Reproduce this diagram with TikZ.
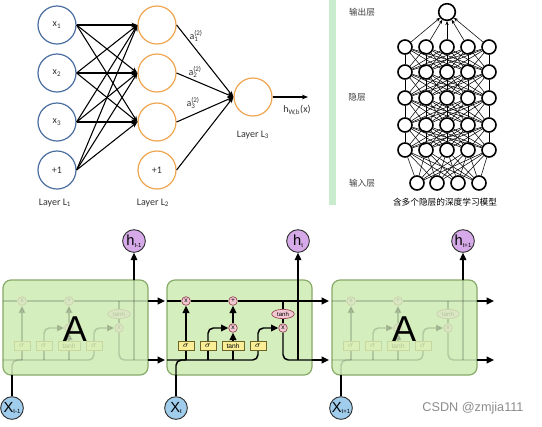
\documentclass[tikz,border=0pt]{standalone}
\usepackage{fontspec}
\setmainfont{Carlito}
\newfontfamily\cjk{Noto Sans CJK SC}
\newfontfamily\arial{Liberation Sans}
\usetikzlibrary{arrows.meta,shapes.geometric}

\definecolor{inblue}{RGB}{75,110,160}
\definecolor{hidorange}{RGB}{240,165,80}
\definecolor{bandgreen}{RGB}{200,236,205}
\definecolor{cellfill}{RGB}{212,238,190}
\definecolor{celldraw}{RGB}{135,170,105}
\definecolor{opfill}{RGB}{242,200,210}
\definecolor{opdraw}{RGB}{150,70,85}
\definecolor{gatefill}{RGB}{250,238,150}
\definecolor{gatedraw}{RGB}{110,100,40}
\definecolor{xfill}{RGB}{160,205,236}
\definecolor{hfill}{RGB}{214,170,232}

\newcommand{\tinysub}[1]{\raisebox{-1.3pt}{\fontsize{4.5}{4.5}\selectfont #1}}

\tikzset{every picture/.style={line width=0.75pt}}
\tikzset{
  innode/.style={circle,draw=inblue,line width=0.9pt,minimum size=28.5pt,inner sep=0pt,text=black!80,font=\fontsize{7.5}{8}\selectfont},
  hidnode/.style={innode,draw=hidorange},
  arr/.style={-{Stealth[length=4.5pt,width=3.5pt]},line width=0.8pt},
  lbl/.style={inner sep=0.75pt,text=black!80,font=\fontsize{7.5}{8}\selectfont},
  dnode/.style={circle,draw,line width=1.2pt,fill=white,minimum size=10.5pt,inner sep=0pt},
  dedge/.style={line width=0.4pt},
  cjklbl/.style={inner sep=0.75pt,text=black!75,font=\cjk\fontsize{6.5}{7}\selectfont},
  cellbox/.style={draw=celldraw,fill=cellfill,line width=0.9pt,rounded corners=6pt},
  op/.style={circle,draw=opdraw,fill=opfill,line width=0.5pt,minimum size=6.5pt,inner sep=0pt,font=\arial\fontsize{5}{5}\selectfont},
  gate/.style={rectangle,draw=gatedraw,fill=gatefill,line width=0.5pt,minimum width=12pt,minimum height=7pt,inner sep=0pt,font=\fontsize{6}{6}\selectfont},
  thnode/.style={ellipse,draw=opdraw,fill=opfill,line width=0.5pt,minimum width=17pt,minimum height=7pt,inner sep=0pt,font=\arial\fontsize{4.5}{5}\selectfont},
  wire/.style={line width=1.1pt},
  warr/.style={wire,-{Triangle[length=5.5pt,width=5pt]}},
  xnode/.style={circle,draw=black!80,fill=xfill,line width=0.7pt,minimum size=17pt,inner sep=0pt,font=\arial\fontsize{11}{11}\selectfont},
  hnode/.style={xnode,fill=hfill}
}

\begin{document}
\begin{tikzpicture}[x=0.75pt,y=0.75pt,yscale=-1,xscale=1]
\useasboundingbox (0,0) rectangle (542,426);
\fill[white] (0,0) rectangle (542,426);

%Shape: Circle (layer 1)
\node[innode] (x1) at (57,25) {x\textsubscript{1}};
\node[innode] (x2) at (57,73) {x\textsubscript{2}};
\node[innode] (x3) at (57,122) {x\textsubscript{3}};
\node[innode] (b1) at (57,170) {+1};
%Shape: Circle (layer 2)
\node[hidnode] (a1) at (157,25) {};
\node[hidnode] (a2) at (157,73) {};
\node[hidnode] (a3) at (157,122) {};
\node[hidnode] (b2) at (157,170) {+1};
%Shape: Circle (layer 3)
\node[hidnode] (o) at (253,97) {};
\coordinate (oend) at (308,97);

%Straight Lines
\foreach \i in {x1,x2,x3,b1}
  \foreach \j in {a1,a2,a3}
    \draw[arr] (\i.east) -- (\j.west);
\foreach \j in {a1,a2,a3,b2}
  \draw[arr] (\j.east) -- (o.west);
\draw[arr] (o) -- (oend);

% Text Node
\node[lbl] (la1) at (194,36) {a\rlap{\textsuperscript{(2)}}\textsubscript{1}};
\node[lbl] (la2) at (193,72) {a\rlap{\textsuperscript{(2)}}\textsubscript{2}};
\node[lbl] (la3) at (191,103) {a\rlap{\textsuperscript{(2)}}\textsubscript{3}};
\node[lbl] (lh) at (297,110) {h\textsubscript{W,b}(x)};
\node[lbl] (ll1) at (55,203) {Layer L\textsubscript{1}};
\node[lbl] (ll2) at (153,203) {Layer L\textsubscript{2}};
\node[lbl] (ll3) at (253,135) {Layer L\textsubscript{3}};

%Shape: Rectangle (divider)
\fill[bandgreen] (329,0) rectangle (336,205);

%Shape: Circle (deep net)
\node[dnode,minimum size=12.5pt] (out) at (447,12) {};
\foreach \r/\yy in {1/47,2/72,3/98,4/125,5/150}
  \foreach \xx [count=\j] in {405,426,447,468,489}
    \node[dnode] (d\r-\j) at (\xx,\yy) {};
\foreach \xx [count=\i] in {417,437,458,479}
  \node[dnode] (in-\i) at (\xx,183) {};
%Straight Lines (deep net)
\foreach \i in {1,...,4}
  \foreach \j in {1,...,5}
    \draw[dedge] (in-\i) -- (d5-\j);
\foreach \r/\s in {1/2,2/3,3/4,4/5}
  \foreach \i in {1,...,5}
    \foreach \j in {1,...,5}
      \draw[dedge] (d\s-\i) -- (d\r-\j);
\foreach \j in {1,...,5}
  \draw[dedge,-{Stealth[length=3pt,width=2.5pt]}] (d1-\j) -- (out);

% Text Node
\node[cjklbl] (lout) at (362,12) {输出层};
\node[cjklbl] (lhid) at (357,97) {隐层};
\node[cjklbl] (lin) at (362,183) {输入层};
\node[cjklbl,text=black] (lcap) at (445,202) {含多个隐层的深度学习模型};

%LSTM cells
\foreach \k/\ox/\op in {1/3/0.16,2/167/1,3/332/0.16}{
\begin{scope}[shift={(\ox,280)}]
  \draw[cellbox] (0,0) rectangle (145,95);
  \coordinate (cin\k) at (0,21);
  \coordinate (cout\k) at (145,21);
  \coordinate (hin\k) at (0,80);
  \coordinate (hout\k) at (145,80);
  \coordinate (cnext\k) at (162,21);
  \coordinate (hnext\k) at (162,80);
  \coordinate (hup\k) at (131,0);
  \coordinate (hbot\k) at (131,80);
  \coordinate (xtop\k) at (9,95);
  \begin{scope}[opacity=\op]
    \node[op] (fx\k) at (19,21) {x};
    \node[op] (pl\k) at (66,21) {+};
    \node[op] (m2\k) at (66,48) {x};
    \node[op] (m3\k) at (116,48) {x};
    \node[thnode] (th\k) at (116,34) {tanh};
    \node[gate] (s1\k) at (19,66) {$\sigma$};
    \node[gate] (s2\k) at (41,66) {$\sigma$};
    \node[gate,minimum width=16.5pt,font=\arial\fontsize{5}{5}\selectfont] (tg\k) at (66,66) {tanh};
    \node[gate] (s3\k) at (91,66) {$\sigma$};
    \draw[wire] (cin\k) -- (fx\k) -- (pl\k) -- (cout\k);
    \draw[wire,rounded corners=4pt] (hin\k) -| (s3\k.south);
    \draw[wire,rounded corners=4pt] (xtop\k) |- (s1\k |- hin\k);
    \draw[wire] (s1\k |- hin\k) -- (s1\k);
    \draw[wire] (s2\k |- hin\k) -- (s2\k);
    \draw[wire] (tg\k |- hin\k) -- (tg\k);
    \draw[warr] (s1\k) -- (fx\k);
    \draw[warr,rounded corners=4pt] (s2\k) |- (m2\k);
    \draw[warr] (tg\k) -- (m2\k);
    \draw[warr] (m2\k) -- (pl\k);
    \draw[warr,rounded corners=4pt] (s3\k) |- (m3\k);
    \draw[wire] (th\k |- cin\k) -- (th\k);
    \draw[wire] (th\k) -- (m3\k);
    \draw[wire,rounded corners=4pt] (m3\k) |- (hout\k);
    \draw[wire] (hbot\k) -- (hup\k);
  \end{scope}
  \ifnum\k=2\else
    \node[font=\arial\fontsize{27}{27}\selectfont,inner sep=0pt] (A\k) at (72,49) {A};
  \fi
  \node[hnode] (ht\k) at (131,-39) {};
  \node[xnode] (xt\k) at (9,128) {};
  \draw[warr] (cout\k) -- (cnext\k);
  \draw[warr] (hout\k) -- (hnext\k);
  \draw[warr] (hup\k) -- (ht\k);
  \draw[wire] (xt\k) -- (xtop\k);
\end{scope}
}

% Text Node
\node[font=\arial\fontsize{11}{11}\selectfont,inner sep=0pt] at (ht1) {h\tinysub{t-1}};
\node[font=\arial\fontsize{11}{11}\selectfont,inner sep=0pt] at (ht2) {h\tinysub{t}};
\node[font=\arial\fontsize{11}{11}\selectfont,inner sep=0pt] at (ht3) {h\tinysub{t+1}};
\node[font=\arial\fontsize{11}{11}\selectfont,inner sep=0pt] at (xt1) {X\tinysub{t-1}};
\node[font=\arial\fontsize{11}{11}\selectfont,inner sep=0pt] at (xt2) {X\tinysub{t}};
\node[font=\arial\fontsize{11}{11}\selectfont,inner sep=0pt] at (xt3) {X\tinysub{t+1}};
\node[font=\arial\fontsize{9.5}{10}\selectfont,text=black!45] (wm) at (473,408) {CSDN @zmjia111};

\end{tikzpicture}
\end{document}
